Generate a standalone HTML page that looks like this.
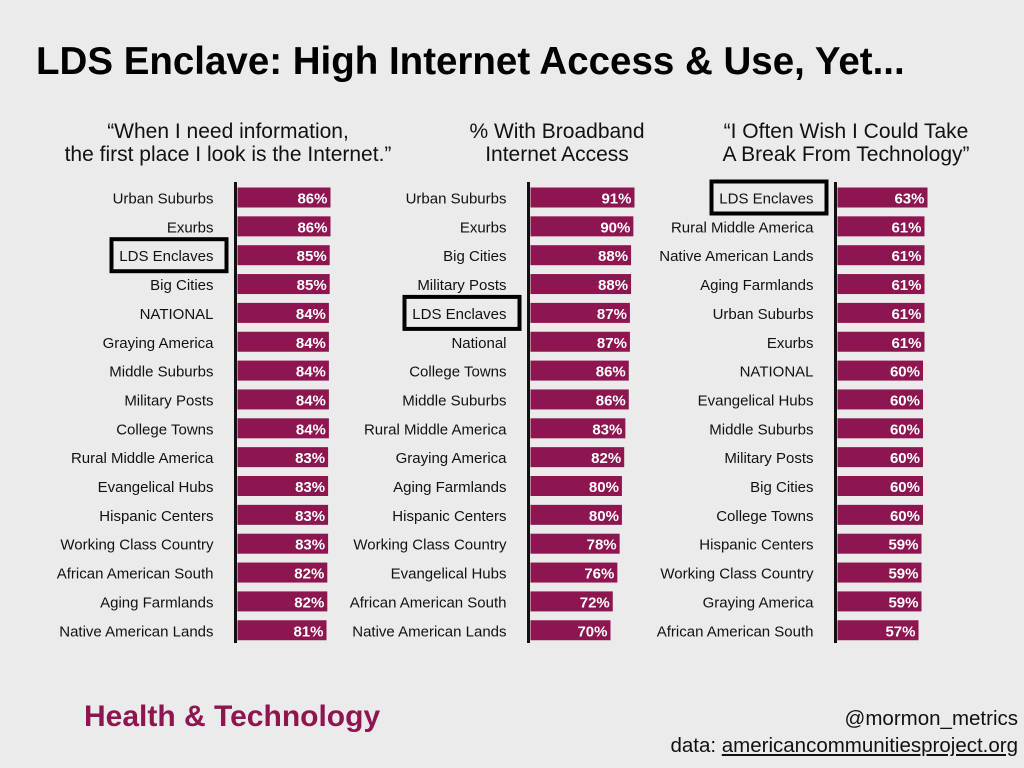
<!DOCTYPE html>
<html><head><meta charset="utf-8"><style>
body{margin:0;background:#ebebeb;font-family:"Liberation Sans",sans-serif;}
#wrap{position:relative;width:1024px;height:768px;overflow:hidden;background:#ebebeb;}
.t{position:absolute;white-space:nowrap;}
</style></head><body>
<div id="wrap">
<div class="t" style="left:36px;top:40px;font-size:38.5px;font-weight:bold;color:#000;">LDS Enclave: High Internet Access &amp; Use, Yet...</div>
<div class="t" style="left:38px;top:120px;width:380px;text-align:center;font-size:21px;line-height:23px;color:#111;">“When I need information,<br>the first place I look is the Internet.”</div>
<div class="t" style="left:437px;top:120px;width:240px;text-align:center;font-size:21px;line-height:23px;color:#111;">% With Broadband<br>Internet Access</div>
<div class="t" style="left:676px;top:120px;width:340px;text-align:center;font-size:21px;line-height:23px;color:#111;">“I Often Wish I Could Take<br>A Break From Technology”</div>
<div class="t" style="left:84px;top:700px;font-size:30px;font-weight:bold;color:#8e1650;">Health &amp; Technology</div>
<div class="t" style="right:6px;top:707px;font-size:20.5px;color:#111;">@mormon_metrics</div>
<div class="t" style="right:6px;top:734px;font-size:20.5px;color:#111;">data: <span style="text-decoration:underline">americancommunitiesproject.org</span></div>
<svg id="svg" width="1024" height="768" style="position:absolute;left:0;top:0"></svg>
</div>
<script>
const cats1=["Urban Suburbs","Exurbs","LDS Enclaves","Big Cities","NATIONAL","Graying America","Middle Suburbs","Military Posts","College Towns","Rural Middle America","Evangelical Hubs","Hispanic Centers","Working Class Country","African American South","Aging Farmlands","Native American Lands"];
const vals1=[86,86,85,85,84,84,84,84,84,83,83,83,83,82,82,81];
const cats2=["Urban Suburbs","Exurbs","Big Cities","Military Posts","LDS Enclaves","National","College Towns","Middle Suburbs","Rural Middle America","Graying America","Aging Farmlands","Hispanic Centers","Working Class Country","Evangelical Hubs","African American South","Native American Lands"];
const vals2=[91,90,88,88,87,87,86,86,83,82,80,80,78,76,72,70];
const cats3=["LDS Enclaves","Rural Middle America","Native American Lands","Aging Farmlands","Urban Suburbs","Exurbs","NATIONAL","Evangelical Hubs","Middle Suburbs","Military Posts","Big Cities","College Towns","Hispanic Centers","Working Class Country","Graying America","African American South"];
const vals3=[63,61,61,61,61,61,60,60,60,60,60,60,59,59,59,57];
const NS="http://www.w3.org/2000/svg";
const svg=document.getElementById('svg');
function mk(tag,attrs){const e=document.createElementNS(NS,tag);for(const k in attrs)e.setAttribute(k,attrs[k]);svg.appendChild(e);return e;}
function panel(cats,vals,axisX,v0,l0,v1,l1,idx){
  const len=v=>l0+(v-v0)*(l1-l0)/(v1-v0);
  const y=i=>197.5+i*28.85;
  const ax=mk('line',{x1:axisX,x2:axisX,y1:182,y2:643,stroke:'#111','stroke-width':3});
  
  
  cats.forEach((c,i)=>{
    const b=mk('rect',{x:axisX+2,y:y(i)-10,width:len(vals[i]),height:20,fill:'#8e1650'});
    
    
    const v=mk('text',{x:axisX+2+len(vals[i])-3,y:y(i)+6,'text-anchor':'end','font-size':15,'font-weight':'bold',fill:'#fff','font-family':'Liberation Sans'});
    v.textContent=vals[i]+'%';
    
    
    const t=mk('text',{x:axisX-22,y:y(i)+6,'text-anchor':'end','font-size':15,fill:'#111','font-family':'Liberation Sans'});
    t.textContent=c;
    
    
    if(c==='LDS Enclaves'){
      const bx=mk('rect',{x:axisX-124,y:y(i)-16,width:115,height:32,fill:'none',stroke:'#000','stroke-width':4});
      
      
    }
  });
}
panel(cats1,vals1,235.5,86,93,81,89,1);
panel(cats2,vals2,528.5,91,104,70,80,2);
panel(cats3,vals3,835.5,63,90,57,81,3);
</script>
</body></html>
